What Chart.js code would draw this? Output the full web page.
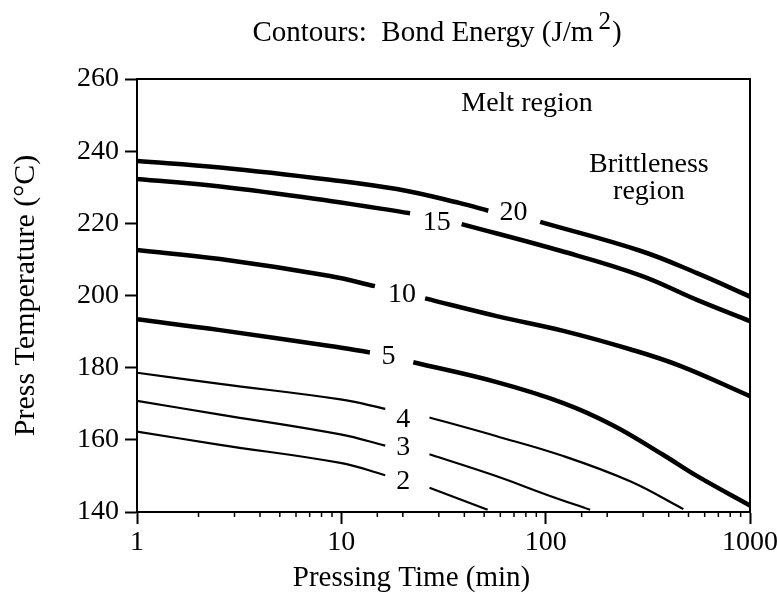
<!DOCTYPE html>
<html>
<head>
<meta charset="utf-8">
<script src="https://cdn.jsdelivr.net/npm/chart.js@4.4.0/dist/chart.umd.min.js"></script>
<style>
  html, body { margin: 0; padding: 0; background: #fff; }
</style>
</head>
<body>
<canvas id="chart" width="777" height="594"></canvas>
<script>
// pressing time (min) and press temperature (C) along each contour
// a null temperature leaves the gap where the contour's label sits
var time2  = [1, 2.55, 9.9, 16.4, 20, 27, 52];
var temp2  = [162.3, 158.6, 153.6, 150.2, null, 146.7, 140.6];
var time3  = [1, 2.55, 9.9, 16.4, 20, 27, 57.6, 101, 165];
var temp3  = [170.8, 167, 161.5, 158.4, null, 156, 149.9, 144.8, 140.6];
var time4  = [1, 2.55, 9.9, 16.4, 20, 27, 57.6, 122, 259, 472];
var temp4  = [178.6, 175.5, 171.2, 168.6, null, 166.2, 161, 155.5, 148.5, 140.8];
var time5  = [1, 2.55, 8.8, 13.8, 17, 22.5, 57.6, 122, 214, 377, 549, 1000];
var temp5  = [193.4, 190.4, 186, 184.2, null, 181.5, 176, 170.2, 164, 155.8, 150, 141.8];
var time10 = [1, 2.55, 8.8, 14.6, 20, 25.7, 57.6, 122, 259, 455, 1000];
var temp10 = [212.6, 210.1, 205.4, 202.6, null, 199.2, 194.3, 190.2, 185.1, 180.5, 172.1];
var time15 = [1, 2.55, 8.8, 21.7, 30, 38.8, 118, 290, 550, 1000];
var temp15 = [232.3, 230.2, 226.2, 222.8, null, 219.8, 212.4, 205.6, 198.8, 192.9];
var time20 = [1, 2.55, 8.8, 18.7, 38.1, 52.4, 70, 94, 290, 550, 1000];
var temp20 = [237.3, 235.5, 232.1, 229.5, 225.6, 223.5, null, 220.4, 212.4, 206.2, 199.7];

// contour labels and region names, placed in data units
var labelText = ['2', '3', '4', '5', '10', '15', '20', 'Melt region', 'Brittleness', 'region'];
var labelTime = [20.1, 20.1, 20.1, 17, 19.8, 29.3, 69.5, 81, 320, 320];
var labelTemp = [148.3, 157.8, 165.7, 183, 200.1, 220.2, 223, 253.1, 236.2, 228.8];

var timeTicks = [1, 10, 100, 1000];
var tempTicks = [140, 160, 180, 200, 220, 240, 260];

var serif = '"Liberation Serif", "Times New Roman", serif';

function pts(times, temps) {
  return times.map(function (t, i) { return { x: t, y: temps[i] }; });
}

function contour(times, temps, w) {
  return {
    data: pts(times, temps),
    borderColor: '#000',
    borderWidth: w,
    pointRadius: 0,
    fill: false,
    spanGaps: false,
    tension: 0.4,
    borderCapStyle: 'butt'
  };
}

var extras = {
  id: 'extras',
  afterDraw: function (chart) {
    var ctx = chart.ctx, a = chart.chartArea;
    var xs = chart.scales.x, ys = chart.scales.y;
    ctx.save();
    ctx.strokeStyle = '#000';
    ctx.lineWidth = 2;
    ctx.beginPath();
    ctx.moveTo(a.left, a.top);
    ctx.lineTo(a.right, a.top);
    ctx.lineTo(a.right, a.bottom);
    ctx.stroke();

    // minor ticks
    ctx.lineWidth = 1.5;
    xs.ticks.forEach(function (t) {
      if (timeTicks.indexOf(t.value) >= 0) return;
      var px = xs.getPixelForValue(t.value);
      ctx.beginPath();
      ctx.moveTo(px, a.bottom);
      ctx.lineTo(px, a.bottom + 5);
      ctx.stroke();
    });
    ys.ticks.forEach(function (t) {
      if (tempTicks.indexOf(t.value) >= 0) return;
      var py = ys.getPixelForValue(t.value);
      ctx.beginPath();
      ctx.moveTo(a.left, py);
      ctx.lineTo(a.left - 6, py);
      ctx.stroke();
    });

    // labels on the plot
    ctx.fillStyle = '#000';
    ctx.font = '28px ' + serif;
    ctx.textAlign = 'center';
    ctx.textBaseline = 'middle';
    labelText.forEach(function (s, i) {
      ctx.fillText(s, xs.getPixelForValue(labelTime[i]), ys.getPixelForValue(labelTemp[i]));
    });

    // chart title with superscript
    var main = 'Contours:  Bond Energy (J/m';
    ctx.textAlign = 'left';
    ctx.textBaseline = 'alphabetic';
    ctx.font = '29px ' + serif;
    var w1 = ctx.measureText(main).width;
    var w3 = ctx.measureText(')').width;
    ctx.font = '25px ' + serif;
    var w2 = ctx.measureText('2').width;
    var gap = 5;
    var x0 = (a.left + a.right) / 2 - 7 - (w1 + gap + w2 + w3) / 2;
    ctx.font = '29px ' + serif;
    ctx.fillText(main, x0, 41);
    ctx.fillText(')', x0 + w1 + gap + w2 + 1, 41);
    ctx.font = '25px ' + serif;
    ctx.fillText('2', x0 + w1 + gap, 29);

    // x axis title
    ctx.font = '29px ' + serif;
    ctx.textAlign = 'center';
    ctx.textBaseline = 'middle';
    ctx.fillText('Pressing Time (min)', (a.left + a.right) / 2 - 32, 578);
    ctx.restore();
  }
};

new Chart(document.getElementById('chart'), {
  type: 'line',
  data: {
    datasets: [
      contour(time2, temp2, 2.2),
      contour(time3, temp3, 2.2),
      contour(time4, temp4, 2.2),
      contour(time5, temp5, 4.5),
      contour(time10, temp10, 4.5),
      contour(time15, temp15, 4.5),
      contour(time20, temp20, 4.5)
    ]
  },
  options: {
    responsive: false,
    animation: false,
    layout: { padding: { top: 79, right: 27, left: 0, bottom: 0 } },
    plugins: { legend: { display: false }, tooltip: { enabled: false }, title: { display: false } },
    scales: {
      x: {
        type: 'logarithmic',
        min: 1,
        max: 1000,
        afterFit: function (s) { s.height = 82; s.paddingLeft = 0; s.paddingRight = 0; },
        border: { display: true, color: '#000', width: 2 },
        grid: {
          drawOnChartArea: false,
          tickLength: 12,
          tickWidth: 2,
          tickColor: function (c) { return c.tick && timeTicks.indexOf(c.tick.value) >= 0 ? '#000' : 'rgba(0,0,0,0)'; }
        },
        ticks: {
          autoSkip: false,
          maxRotation: 0,
          padding: 2,
          color: '#000',
          font: { family: serif, size: 28 },
          callback: function (v) { return timeTicks.indexOf(v) >= 0 ? String(v) : ''; }
        }
      },
      y: {
        min: 140,
        max: 260,
        afterFit: function (s) { s.width = 137; s.paddingTop = 0; s.paddingBottom = 0; },
        border: { display: true, color: '#000', width: 2 },
        grid: {
          drawOnChartArea: false,
          tickLength: 12,
          tickWidth: 2,
          tickColor: function (c) { return c.tick && tempTicks.indexOf(c.tick.value) >= 0 ? '#000' : 'rgba(0,0,0,0)'; }
        },
        ticks: {
          stepSize: 10,
          padding: 6,
          color: '#000',
          font: { family: serif, size: 28 },
          callback: function (v) { return tempTicks.indexOf(v) >= 0 ? String(v) : ''; }
        },
        title: {
          display: true,
          text: 'Press Temperature (\u00B0C)',
          color: '#000',
          font: { family: serif, size: 30 },
          padding: { top: 8, bottom: 0 }
        }
      }
    }
  },
  plugins: [extras]
});
</script>
</body>
</html>
